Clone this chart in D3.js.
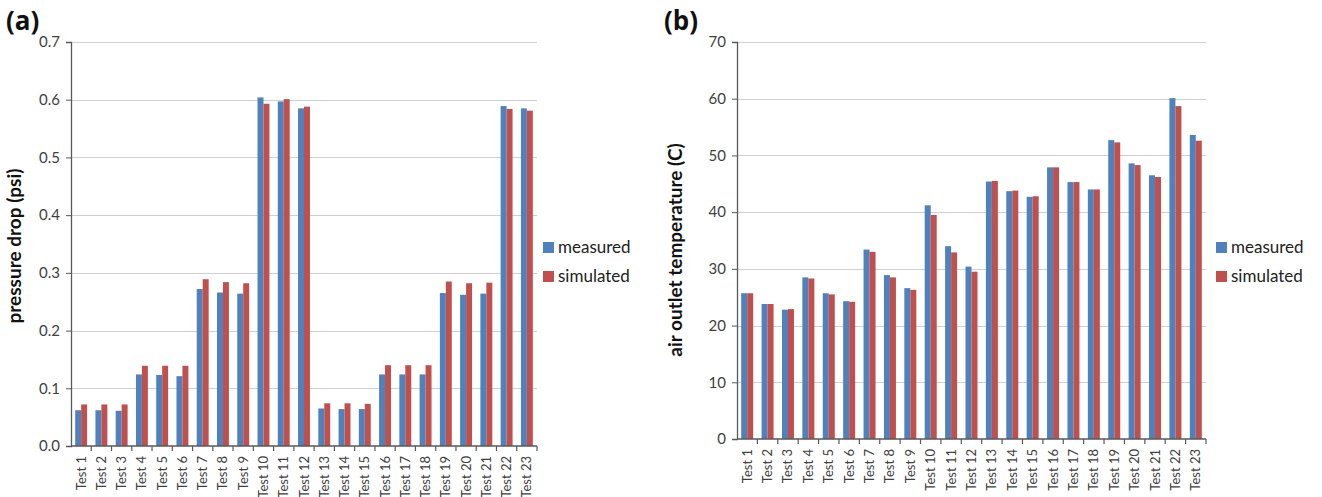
<!DOCTYPE html>
<html><head><meta charset="utf-8">
<script src="https://cdn.jsdelivr.net/npm/d3@7"></script>
<style>
html,body{margin:0;padding:0;background:#fff;}
svg{display:block;font-family:Lato,"Liberation Sans",sans-serif;}
</style></head>
<body><svg id="chart" width="1322" height="497"></svg>
<script>
const categories = ["Test 1","Test 2","Test 3","Test 4","Test 5","Test 6","Test 7","Test 8","Test 9","Test 10","Test 11","Test 12","Test 13","Test 14","Test 15","Test 16","Test 17","Test 18","Test 19","Test 20","Test 21","Test 22","Test 23"];
const seriesNames = ["measured","simulated"];
const seriesColors = ["#4F81BD","#C0504D"];

const pressureMeasured = [0.062,0.062,0.061,0.124,0.123,0.121,0.272,0.266,0.264,0.604,0.597,0.585,0.065,0.064,0.064,0.124,0.124,0.124,0.265,0.262,0.264,0.589,0.585];
const pressureSimulated = [0.072,0.072,0.072,0.139,0.139,0.139,0.289,0.284,0.282,0.593,0.601,0.588,0.074,0.074,0.073,0.140,0.140,0.140,0.285,0.282,0.283,0.584,0.581];
const pressureTicks = [0.0,0.1,0.2,0.3,0.4,0.5,0.6,0.7];

const tempMeasured = [25.7,23.8,22.8,28.5,25.7,24.3,33.4,28.9,26.6,41.2,34.0,30.4,45.4,43.7,42.7,47.9,45.3,44.0,52.7,48.6,46.5,60.1,53.6];
const tempSimulated = [25.7,23.8,22.9,28.3,25.5,24.2,33.0,28.5,26.3,39.5,32.9,29.5,45.5,43.8,42.8,47.9,45.3,44.0,52.3,48.3,46.2,58.7,52.6];
const tempTicks = [0,10,20,30,40,50,60,70];

const svg = d3.select("#chart");

function panel(opt){
  const g = svg.append("g");
  const x = d3.scaleBand().domain(categories).range([opt.x0, opt.x1]).padding(0);
  const x1 = d3.scaleBand().domain(seriesNames).range([0, x.bandwidth()]).paddingInner(0).paddingOuter(0.7);
  const y = d3.scaleLinear().domain([opt.ticks[0], opt.ticks[opt.ticks.length-1]]).range([opt.y0, opt.y1]);

  g.append("g").selectAll("line").data(opt.ticks.slice(1)).join("line")
    .attr("x1", opt.x0).attr("x2", opt.x1)
    .attr("y1", d=>Math.round(y(d))+0.5).attr("y2", d=>Math.round(y(d))+0.5)
    .attr("stroke","#d0d0d0").attr("stroke-width",1.2);

  const data = categories.map((c,i)=>({c, vals: [opt.a[i], opt.b[i]]}));
  const grp = g.append("g").selectAll("g").data(data).join("g")
    .attr("transform", d=>`translate(${x(d.c)},0)`);
  grp.selectAll("rect").data(d=>d.vals.map((v,k)=>({v,k}))).join("rect")
    .attr("x", d=>x1(seriesNames[d.k]))
    .attr("width", x1.bandwidth())
    .attr("y", d=>y(d.v))
    .attr("height", d=>y(opt.ticks[0]) - y(d.v))
    .attr("fill", d=>seriesColors[d.k]);

  const ya = g.append("g").attr("transform",`translate(${opt.x0},0)`)
    .call(d3.axisLeft(y).tickValues(opt.ticks).tickFormat(opt.fmt).tickSize(5).tickPadding(6));
  ya.select(".domain").attr("stroke","#595959").attr("stroke-width",1.3);
  ya.selectAll(".tick line").attr("stroke","#595959");
  ya.selectAll("text").attr("font-size",15).attr("fill","#404040").attr("font-family","Lato,'Liberation Sans',sans-serif");

  const xa = g.append("g").attr("transform",`translate(0,${opt.y0})`);
  xa.append("line").attr("x1",opt.x0).attr("x2",opt.x1).attr("y1",0).attr("y2",0)
    .attr("stroke","#595959").attr("stroke-width",1.3);
  const bounds = categories.map(c=>x(c)).concat([x(categories[categories.length-1])+x.bandwidth()]);
  xa.selectAll("line.tk").data(bounds.slice(1)).join("line").attr("class","tk")
    .attr("x1",d=>d).attr("x2",d=>d).attr("y1",0).attr("y2",5)
    .attr("stroke","#595959").attr("stroke-width",1.2);
  xa.selectAll("text").data(categories).join("text")
    .attr("transform", d=>`translate(${x(d)+x.bandwidth()/2+4.5},10) rotate(-90)`)
    .attr("text-anchor","end").attr("font-size",13).attr("fill","#404040")
    .text(d=>d);

  g.append("text")
    .attr("transform",`translate(${opt.labelX},${opt.labelY}) rotate(-90)`)
    .attr("text-anchor","middle").attr("font-size",19).attr("font-weight","bold").attr("fill","#111")
    .text(opt.ylabel);

  g.append("text").attr("x",opt.letterX).attr("y",30).attr("font-size",26).attr("font-weight","bold")
    .attr("font-family","'Open Sans',Lato,sans-serif").attr("fill","#111")
    .text(opt.letter);

  const lg = g.append("g").attr("transform",`translate(${opt.legX},${opt.legY})`);
  seriesNames.forEach((s,k)=>{
    lg.append("rect").attr("x",0).attr("y",k*29).attr("width",11).attr("height",11).attr("fill",seriesColors[k]);
    lg.append("text").attr("x",15).attr("y",k*29+10.5).attr("font-size",17).attr("fill","#222").text(s);
  });
}

panel({x0:71, x1:537, y0:446, y1:42, ticks:pressureTicks, fmt:d3.format(".1f"),
  a:pressureMeasured, b:pressureSimulated, ylabel:"pressure drop (psi)", labelX:21, labelY:246,
  letter:"(a)", letterX:6, legX:543, legY:242});

panel({x0:737, x1:1206, y0:439, y1:42, ticks:tempTicks, fmt:d3.format("d"),
  a:tempMeasured, b:tempSimulated, ylabel:"air outlet temperature (C)", labelX:682, labelY:250,
  letter:"(b)", letterX:664, legX:1216, legY:242});
</script></body></html>
